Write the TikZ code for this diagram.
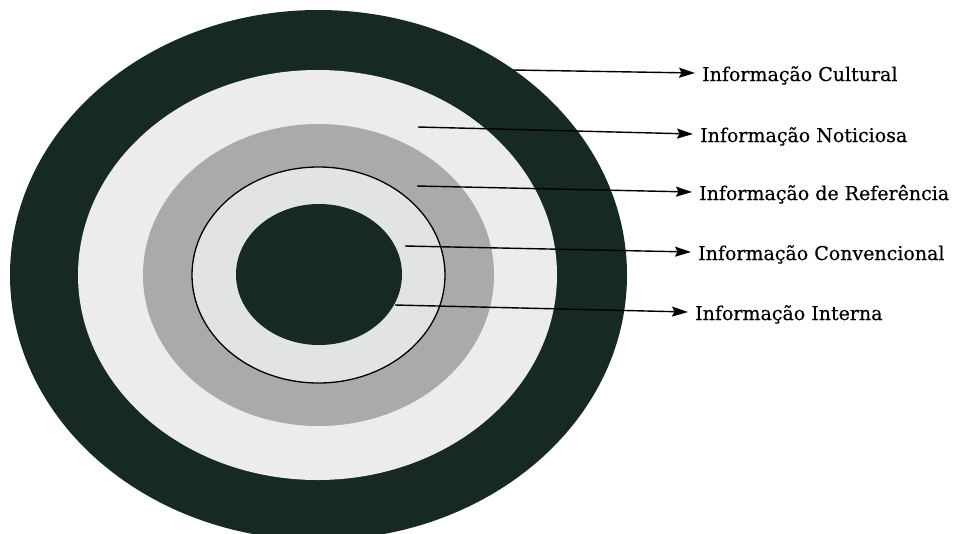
\documentclass[tikz,border=0pt]{standalone}
\usepackage{fontspec}
\newfontfamily\labelfont[FakeBold=0.5]{DejaVu Serif}
\usetikzlibrary{arrows.meta}
\definecolor{ringdark}{RGB}{22,42,33}
\definecolor{ringlight}{RGB}{236,236,235}
\definecolor{ringgray}{RGB}{168,171,168}
\definecolor{ringinner}{RGB}{226,228,226}
\tikzset{
  lbl/.style={anchor=west,inner xsep=7pt,inner ysep=0pt,text height=16pt,text depth=0pt,
    font=\labelfont\fontsize{19}{22}\selectfont},
  ptr/.style={line width=1.4pt,-{Stealth[length=16pt,width=10pt,inset=2.5pt]}}
}
\begin{document}
\begin{tikzpicture}[x=1pt,y=-1pt]
\useasboundingbox (0,0) rectangle (960,533);

% rings
\fill[ringdark] (318.5,275) ellipse [x radius=308.5pt, y radius=265pt];
\fill[ringlight] (317.5,275) ellipse [x radius=239.5pt, y radius=205pt];
\fill[ringgray] (318.5,275) ellipse [x radius=175.5pt, y radius=151pt];
\filldraw[fill=ringinner,draw=black,line width=1.3pt] (318.5,275) ellipse [x radius=126.5pt, y radius=108pt];
\fill[ringdark] (319,274.5) ellipse [x radius=83pt, y radius=70.5pt];

\coordinate (p1) at (513,70);
\coordinate (p2) at (418,127);
\coordinate (p3) at (417,186);
\coordinate (p4) at (405,246);
\coordinate (p5) at (395,305);

\node[lbl] (l1) at (695,73) {Informação Cultural};
\node[lbl] (l2) at (693,134) {Informação Noticiosa};
\node[lbl] (l3) at (692,192) {Informação de Referência};
\node[lbl] (l4) at (691,252) {Informação Convencional};
\node[lbl] (l5) at (688,312) {Informação Interna};

\draw[ptr] (p1) -- (l1.west);
\draw[ptr] (p2) -- (l2.west);
\draw[ptr] (p3) -- (l3.west);
\draw[ptr] (p4) -- (l4.west);
\draw[ptr] (p5) -- (l5.west);
\end{tikzpicture}
\end{document}
